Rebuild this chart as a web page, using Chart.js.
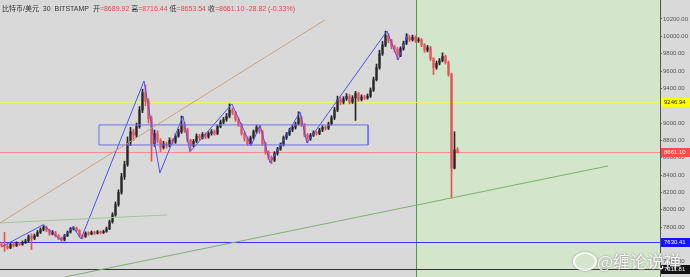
<!DOCTYPE html>
<html>
<head>
<meta charset="utf-8">
<script src="https://cdn.jsdelivr.net/npm/chart.js@4.4.1/dist/chart.umd.min.js"></script>
<style>
  html, body { margin: 0; padding: 0; background: #d9d9d9; }
  #wrap { position: relative; width: 690px; height: 277px; overflow: hidden; }
  #title { position: absolute; left: 2px; top: 3px; font: 7px "Liberation Sans", "Noto Sans CJK SC", sans-serif; color: #333; white-space: nowrap; }
  #title .v { color: #e5474f; }
  #mark { position: absolute; left: 597px; top: 248px; font: 17px "Noto Sans CJK SC", sans-serif; color: rgba(255,255,255,0.9); text-shadow: 0 0 2px #777; white-space: nowrap; }
  #logo { position: absolute; left: 573px; top: 252px; width: 20px; height: 15px; border-radius: 50%; border: 2px solid rgba(255,255,255,0.9); box-shadow: 0 0 2px #777; }
</style>
</head>
<body>
<div id="wrap">
  <canvas id="myChart" width="690" height="277"></canvas>
  <div id="title">比特币/美元&nbsp; 30 &nbsp;BITSTAMP&nbsp; 开<span class="v">=8689.92</span> 高<span class="v">=8716.44</span> 低<span class="v">=8653.54</span> 收<span class="v">=8661.10</span> <span class="v">-28.82 (-0.33%)</span></div>
  <div id="logo"></div>
  <div id="mark">@缠论说禅</div>
</div>
<script>
'use strict';

// 30 minute candles
const opens = [
  7600, 7590, 7580, 7560, 7600, 7585, 7610, 7600, 7620, 7640,
  7690, 7670, 7700, 7740, 7770, 7800, 7760, 7720, 7740, 7700,
  7670, 7650, 7700, 7740, 7780, 7790, 7760, 7700, 7690, 7730,
  7720, 7740, 7730, 7745, 7735, 7750, 7780, 7860, 7940, 8060,
  8200, 8380, 8520, 8780, 8900, 8860, 8960, 9150, 9350, 9250,
  9050, 8760, 8880, 8800, 8720, 8760, 8740, 8800, 8780, 8850,
  8900, 8990, 8920, 8800, 8740, 8790, 8850, 8830, 8870, 8840,
  8880, 8900, 8880, 8960, 9010, 9040, 9080, 9150, 9120, 9040,
  8980, 8880, 8820, 8760, 8830, 8900, 8950, 8900, 8760, 8660,
  8600, 8570, 8650, 8700, 8750, 8830, 8870, 8920, 8950, 8990,
  9060, 8980, 8860, 8820, 8860, 8890, 8880, 8920, 8950, 8940,
  8990, 9060, 9150, 9270, 9240, 9280, 9310, 9240, 9290, 9340,
  9270, 9300, 9290, 9310, 9380, 9500, 9640, 9800, 9900, 10010,
  9950, 9880, 9850, 9780, 9860, 9920, 9990, 9960, 9990, 9950,
  9960, 9900, 9840, 9870, 9740, 9640, 9690, 9720, 9770, 9700,
  9560, 8480, 8689.92
];
const highs = [
  7625, 7740, 7600, 7615, 7620, 7630, 7625, 7640, 7660, 7710,
  7720, 7720, 7760, 7790, 7825, 7810, 7775, 7760, 7750, 7715,
  7685, 7715, 7755, 7795, 7805, 7800, 7770, 7715, 7745, 7745,
  7755, 7750, 7760, 7755, 7765, 7800, 7880, 7965, 8090, 8230,
  8420, 8560, 8840, 8950, 8930, 9000, 9190, 9390, 9440, 9280,
  9080, 8920, 8910, 8820, 8790, 8780, 8830, 8820, 8875, 8930,
  9080, 9010, 8940, 8815, 8810, 8875, 8870, 8890, 8885, 8900,
  8925, 8920, 8980, 9035, 9065, 9110, 9220, 9175, 9135, 9060,
  8995, 8900, 8840, 8850, 8920, 8975, 8965, 8915, 8780, 8680,
  8620, 8670, 8720, 8770, 8850, 8890, 8940, 8975, 9010, 9130,
  9080, 8995, 8880, 8880, 8910, 8905, 8940, 8970, 8965, 9010,
  9085, 9180, 9310, 9300, 9305, 9340, 9330, 9315, 9365, 9355,
  9325, 9320, 9335, 9405, 9530, 9680, 9840, 9940, 10060, 10030,
  9965, 9900, 9870, 9880, 9945, 10030, 10010, 10015, 10005, 9985,
  9975, 9915, 9895, 9885, 9755, 9715, 9745, 9810, 9785, 9715,
  9575, 8900, 8716.44
];
const lows = [
  7570, 7520, 7545, 7550, 7570, 7575, 7585, 7590, 7610, 7630,
  7540, 7655, 7690, 7725, 7755, 7745, 7705, 7710, 7685, 7655,
  7635, 7640, 7690, 7730, 7765, 7745, 7685, 7665, 7680, 7705,
  7710, 7715, 7720, 7720, 7725, 7740, 7770, 7845, 7925, 8040,
  8180, 8350, 8500, 8740, 8800, 8830, 8940, 9120, 9200, 9000,
  8560, 8730, 8770, 8670, 8700, 8710, 8725, 8755, 8765, 8835,
  8880, 8890, 8780, 8690, 8725, 8775, 8805, 8815, 8820, 8825,
  8860, 8860, 8865, 8945, 8990, 9020, 9060, 9095, 9020, 8960,
  8860, 8790, 8740, 8745, 8815, 8880, 8880, 8740, 8640, 8580,
  8530, 8555, 8630, 8685, 8735, 8810, 8855, 8900, 8930, 8975,
  8960, 8840, 8770, 8800, 8845, 8860, 8865, 8900, 8920, 8925,
  8975, 9040, 9130, 9210, 9220, 9260, 9220, 9225, 9030, 9250,
  9255, 9270, 9275, 9295, 9365, 9485, 9620, 9780, 9880, 9925,
  9855, 9820, 9730, 9765, 9840, 9905, 9940, 9945, 9930, 9930,
  9880, 9815, 9820, 9720, 9560, 9620, 9670, 9705, 9680, 9540,
  8136, 8470, 8653.54
];
const closes = [
  7590, 7580, 7560, 7600, 7585, 7610, 7600, 7620, 7640, 7690,
  7670, 7700, 7740, 7770, 7800, 7760, 7720, 7740, 7700, 7670,
  7650, 7700, 7740, 7780, 7790, 7760, 7700, 7690, 7730, 7720,
  7740, 7730, 7745, 7735, 7750, 7780, 7860, 7940, 8060, 8200,
  8380, 8520, 8780, 8900, 8860, 8960, 9150, 9350, 9250, 9050,
  8760, 8880, 8800, 8720, 8760, 8740, 8800, 8780, 8850, 8900,
  8990, 8920, 8800, 8740, 8790, 8850, 8830, 8870, 8840, 8880,
  8900, 8880, 8960, 9010, 9040, 9080, 9150, 9120, 9040, 8980,
  8880, 8820, 8760, 8830, 8900, 8950, 8900, 8760, 8660, 8600,
  8570, 8650, 8700, 8750, 8830, 8870, 8920, 8950, 8990, 9060,
  8980, 8860, 8820, 8860, 8890, 8880, 8920, 8950, 8940, 8990,
  9060, 9150, 9270, 9240, 9280, 9310, 9240, 9290, 9340, 9270,
  9300, 9290, 9310, 9380, 9500, 9640, 9800, 9900, 10010, 9950,
  9880, 9850, 9780, 9860, 9920, 9990, 9960, 9990, 9950, 9960,
  9900, 9840, 9870, 9740, 9640, 9690, 9720, 9770, 9700, 9560,
  8480, 8689.92, 8661.10
];

const yTicks = [7400, 7600, 7800, 8000, 8200, 8400, 8600, 8800, 9000, 9200, 9400, 9600, 9800, 10000, 10200];

// horizontal price levels (yellow, red = last close, blue, black)
const levels = [9246.94, 8661.10, 7630.41, 7311.81];

// drawings: bar index / price anchors
const zigzagBars = [0.7, 14.3, 20.3, 24.3, 27, 48, 53.3, 61, 63.3, 77.3, 83.7, 86.7, 90, 100, 102.3, 129, 132.7, 136];
const zigzagPrices = [7575, 7825, 7652, 7802, 7663, 9485, 8424, 9082, 8667, 9220, 8736, 8978, 8540, 9128, 8770, 10062, 9727, 10027];
const boxBars = [33, 33, 122.7, 122.7, 33];
const boxPrices = [8747, 8978, 8978, 8747, 8747];
const tanBars = [0, 108.3];
const tanPrices = [7848, 10188];
const flatBars = [0, 55.7];
const flatPrices = [7848, 7940];
const supportBars = [21.7, 202.7];
const supportPrices = [7225, 8505];
const zoneStart = 138.7;

(function () {
   const upColor = '#262626';
   const downColor = '#e8505a';
   const levelColors = ['#f2f27a', '#f29090', '#3535ff', '#333333'];
   const labelBg = ['#ffff00', '#ff4a4a', '#1414ff', '#111111'];
   const labelFg = ['#222222', '#ffffff', '#ffffff', '#ffffff'];

   const candleColor = closes.map(function (c, i) { return c >= opens[i] ? upColor : downColor; });
   const wickData = highs.map(function (h, i) { return { x: i + 0.5, y: [lows[i], h] }; });
   const bodyData = opens.map(function (o, i) { return { x: i + 0.5, y: [o, closes[i]] }; });

   function line(bars, prices, color, width) {
      return {
         type: 'line',
         data: bars.map(function (b, i) { return { x: b, y: prices[i] }; }),
         borderColor: color,
         borderWidth: width || 1,
         pointRadius: 0,
         fill: false,
         tension: 0,
         order: 0
      };
   }

   const overlay = {
      id: 'overlay',
      beforeDatasetsDraw: function (chart) {
         const ctx = chart.ctx, a = chart.chartArea;
         const gx = chart.scales.x.getPixelForValue(zoneStart);
         ctx.save();
         ctx.fillStyle = '#d3e5cb';
         ctx.fillRect(gx, a.top, a.right - gx, a.bottom - a.top);
         ctx.strokeStyle = '#4f9a4a';
         ctx.lineWidth = 1;
         ctx.beginPath();
         ctx.moveTo(Math.round(gx) + 0.5, a.top);
         ctx.lineTo(Math.round(gx) + 0.5, a.bottom);
         ctx.stroke();
         for (let i = 0; i < levels.length; i++) {
            const py = Math.round(chart.scales.y.getPixelForValue(levels[i])) + 0.5;
            ctx.strokeStyle = levelColors[i];
            ctx.beginPath();
            ctx.moveTo(a.left, py);
            ctx.lineTo(a.right, py);
            ctx.stroke();
         }
         ctx.restore();
      },
      afterDraw: function (chart) {
         const ctx = chart.ctx, a = chart.chartArea;
         ctx.save();
         ctx.font = '6px "Liberation Sans"';
         ctx.textBaseline = 'middle';
         for (let i = 0; i < levels.length; i++) {
            const py = Math.round(chart.scales.y.getPixelForValue(levels[i]));
            ctx.fillStyle = labelBg[i];
            ctx.fillRect(a.right + 1, py - 4, chart.width - a.right - 1, 9);
            ctx.fillStyle = labelFg[i];
            ctx.fillText(levels[i].toFixed(2), a.right + 4, py + 0.5);
         }
         ctx.restore();
      }
   };

   const ctx = document.getElementById('myChart');
   new Chart(ctx, {
      type: 'bar',
      data: {
         datasets: [
            line(tanBars, tanPrices, '#c9a27c'),
            line(flatBars, flatPrices, '#9fc894'),
            line(supportBars, supportPrices, '#7cb26c'),
            line(boxBars, boxPrices, '#6f6fe6'),
            line(zigzagBars, zigzagPrices, '#5050ee'),
            {
               data: wickData,
               backgroundColor: candleColor,
               barThickness: 1,
               grouped: false,
               order: 1
            },
            {
               data: bodyData,
               backgroundColor: candleColor,
               barThickness: 1.5,
               minBarLength: 1,
               grouped: false,
               order: 1
            }
         ]
      },
      options: {
         responsive: false,
         animation: false,
         events: [],
         layout: { padding: 0 },
         plugins: { legend: { display: false }, tooltip: { enabled: false } },
         scales: {
            x: { type: 'linear', min: 0, max: 220, offset: false, display: false },
            y: {
               position: 'right',
               min: 7224,
               max: 10419,
               afterFit: function (s) { s.width = 30; s.paddingTop = 0; s.paddingBottom = 0; },
               afterBuildTicks: function (s) { s.ticks = yTicks.map(function (v) { return { value: v }; }); },
               ticks: {
                  callback: function (v) { return Number(v).toFixed(2); },
                  color: '#555',
                  font: { family: 'Liberation Sans', size: 6 },
                  padding: 1,
                  autoSkip: false,
                  maxRotation: 0
               },
               grid: { drawOnChartArea: false, drawTicks: true, tickLength: 2, color: '#666' },
               border: { display: true, color: '#555' }
            }
         }
      },
      plugins: [overlay]
   });
})();
</script>
</body>
</html>
